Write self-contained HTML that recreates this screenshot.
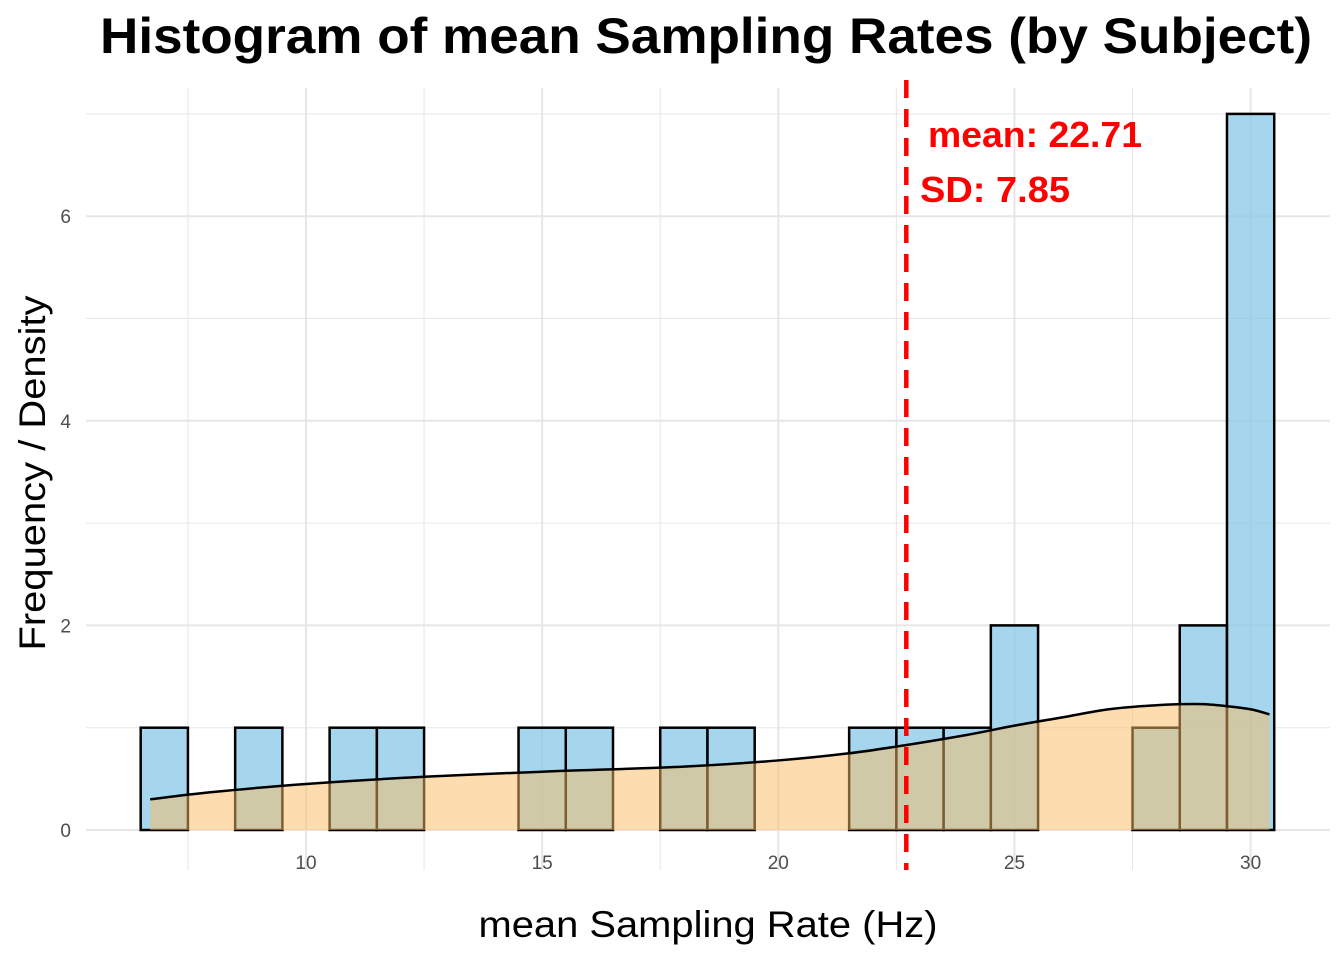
<!DOCTYPE html>
<html><head><meta charset="utf-8"><style>body{margin:0;background:#fff}svg{display:block;font-family:"Liberation Sans",Arial,sans-serif}</style></head>
<body>
<svg id="chart" width="1344" height="960" viewBox="0 0 1344 960" xmlns="http://www.w3.org/2000/svg">
<g id="grid"></g>
<g id="bars"></g>
<g id="dens"></g>
<g id="ticks"></g>
<text x="706" y="53" text-anchor="middle" font-size="50" font-weight="bold" textLength="1212" lengthAdjust="spacingAndGlyphs">Histogram of mean Sampling Rates (by Subject)</text>
<text x="708" y="937" text-anchor="middle" font-size="37" textLength="459" lengthAdjust="spacingAndGlyphs">mean Sampling Rate (Hz)</text>
<text transform="translate(45,473) rotate(-90)" text-anchor="middle" font-size="37" textLength="355" lengthAdjust="spacingAndGlyphs">Frequency / Density</text>
<text x="928" y="147" font-size="36" font-weight="bold" fill="#ff0000" textLength="214" lengthAdjust="spacingAndGlyphs">mean: 22.71</text>
<text x="920" y="202" font-size="36" font-weight="bold" fill="#ff0000" textLength="150" lengthAdjust="spacingAndGlyphs">SD: 7.85</text>
</svg>
<script>
const binCenters=[7,9,11,12,15,16,18,19,22,23,24,25,28,29,30];
const binCounts=[1,1,1,1,1,1,1,1,1,1,1,2,1,2,7];
const densX=[6.7,8,10,12.5,15,18,20,21.5,22.7,24,25,26,27,28,28.5,29,29.5,30,30.4];
const densY=[0.3,0.37,0.45,0.52,0.57,0.62,0.68,0.75,0.83,0.93,1.02,1.1,1.18,1.22,1.23,1.23,1.21,1.18,1.13];
const xTicks=[10,15,20,25,30];
const yTicks=[0,2,4,6];
const meanVal=22.71;
const NS='http://www.w3.org/2000/svg';
const X=v=>306+(v-10)*47.23, Y=v=>830-v*102.3;
function mk(p,t,a){const e=document.createElementNS(NS,t);for(const k in a)e.setAttribute(k,a[k]);document.getElementById(p).appendChild(e);return e;}
const L=86,R=1330,T=88,B=870;
for(let v=7.5;v<=30;v+=2.5){const e=mk('grid','line',{x1:X(v),x2:X(v),y1:T,y2:B,stroke:'#e6e6e6','stroke-width':v%5===0?2:1});

}
for(let v=0;v<=7;v++){const e=mk('grid','line',{x1:L,x2:R,y1:Y(v),y2:Y(v),stroke:'#e6e6e6','stroke-width':v%2===0?2:1});

}
binCenters.forEach((c,i)=>{const e=mk('bars','rect',{x:X(c-0.5),y:Y(binCounts[i]),width:X(c+0.5)-X(c-0.5),height:Y(0)-Y(binCounts[i]),fill:'rgba(135,200,232,0.75)',stroke:'#000','stroke-width':2.5});

});
// smooth path via Catmull-Rom
function smooth(pts){let s='M'+pts[0][0]+','+pts[0][1];for(let i=0;i<pts.length-1;i++){const p0=pts[Math.max(0,i-1)],p1=pts[i],p2=pts[i+1],p3=pts[Math.min(pts.length-1,i+2)];
s+=' C'+(p1[0]+(p2[0]-p0[0])/6)+','+(p1[1]+(p2[1]-p0[1])/6)+' '+(p2[0]-(p3[0]-p1[0])/6)+','+(p2[1]-(p3[1]-p1[1])/6)+' '+p2[0]+','+p2[1];}return s;}
const pts=densX.map((x,i)=>[X(x),Y(densY[i])]);
const sp=smooth(pts);
let e=mk('dens','path',{d:'M'+X(densX[0])+','+Y(0)+' L'+sp.slice(1)+' L'+X(densX[densX.length-1])+','+Y(0)+'Z',fill:'rgba(252,188,98,0.5)',stroke:'none'});


e=mk('dens','path',{d:sp,fill:'none',stroke:'#000','stroke-width':2.5});


e=mk('dens','line',{x1:X(meanVal),x2:X(meanVal),y1:80,y2:870,stroke:'#ff0000','stroke-width':4.5,'stroke-dasharray':'18,11'});


xTicks.forEach(v=>{const t=mk('ticks','text',{x:X(v),y:869,'text-anchor':'middle','font-size':19,fill:'#4d4d4d'});t.textContent=v;

});
yTicks.forEach(v=>{const t=mk('ticks','text',{x:71,y:Y(v)+7,'text-anchor':'end','font-size':19,fill:'#4d4d4d'});t.textContent=v;

});
</script>
</body></html>
